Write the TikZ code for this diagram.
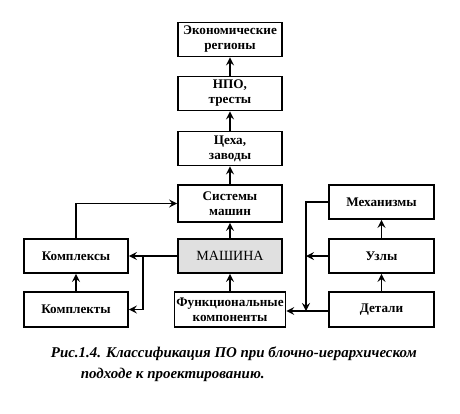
\documentclass[tikz,border=0pt]{standalone}
\usepackage{fontspec}
\setmainfont{Liberation Serif}
\begin{document}
\begin{tikzpicture}[x=0.02cm, y=-0.02cm, >=stealth, line width=1pt,
  blok/.style={draw, fill=white, minimum width=2.08cm, minimum height=0.68cm,
    align=center, inner sep=1pt, font=\fontsize{7.5}{8.5}\selectfont\bfseries}]
    \useasboundingbox (0,0) rectangle (460,413);
    % vertical chain
    \node[blok] (eco) at (230,39.5) {Экономические\\регионы};
    \node[blok] (npo) at (230,93.5) {НПО,\\тресты};
    \node[blok] (ceh) at (230,148.5) {Цеха,\\заводы};
    \node[blok, minimum height=0.74cm] (sys) at (230,203.5) {Системы\\машин};
    \node[blok, fill=black!12, font=\fontsize{8}{9}\selectfont] (mash) at (230,256) {МАШИНА};
    \node[blok, minimum height=0.7cm] (func) at (230,309.5) {Функциональные\\компоненты};
    
    % left side
    \node[blok] (kompleks) at (76,256) {Комплексы};
    \node[blok, minimum height=0.7cm] (komplekt) at (76,309.5) {Комплекты};
    
    % right side
    \node[blok, minimum width=2.1cm] (mech) at (381.5,202) {Механизмы};
    \node[blok, minimum width=2.1cm] (uzly) at (381.5,256) {Узлы};
    \node[blok, minimum width=2.1cm, minimum height=0.7cm] (det) at (381.5,309.5) {Детали};
    
    \draw[->] (ceh) -- (npo);
    \draw[->] (npo) -- (eco);
    \draw[->] (sys) -- (ceh);
    \draw[->] (mash) -- (sys);
    \draw[->] (func) -- (mash);
    
    \coordinate (lsplit) at (143,256);
    \draw (mash.west) -- (lsplit);
    \draw[->] (lsplit) -- (kompleks.east);
    \draw[->] (lsplit) |- (komplekt.east);
    \draw[->] (komplekt) -- (kompleks);
    \draw[->] (kompleks.north) |- (sys.west);
    
    \coordinate (rbus) at (306,311);
    \draw[->] (det) -- (uzly);
    \draw[->] (uzly) -- (mech);
    \draw[->] (det.west |- rbus) -- (func.east |- rbus);
    \draw[->] (mech.west) -| (rbus);
    \draw[->] (uzly.west) -- (uzly.west -| rbus);
    
    % caption
    \node[anchor=west, align=left, inner sep=0pt, font=\fontsize{8.5}{12}\selectfont\bfseries\itshape] (cap) at (50,364.5)
      {Рис.1.4. Классификация ПО при блочно-иерархическом\\\hspace*{0.6cm}подходе к проектированию.};
\end{tikzpicture}
\end{document}
